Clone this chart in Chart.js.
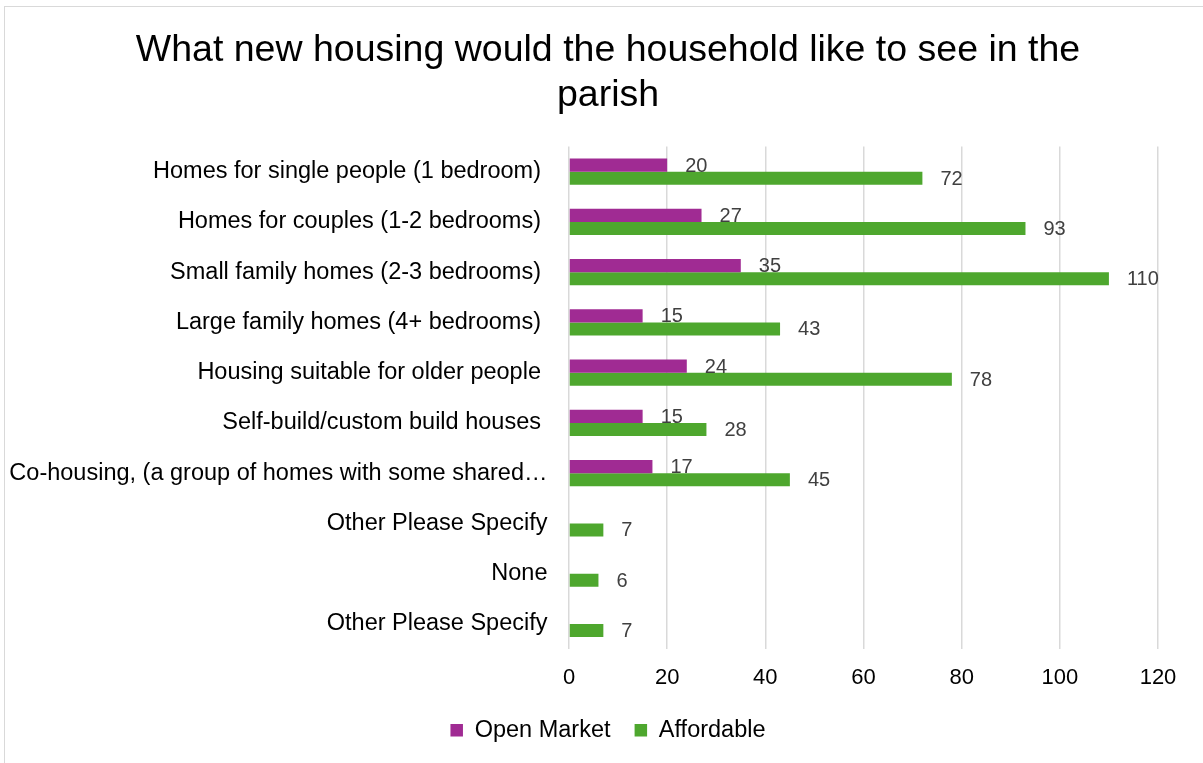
<!DOCTYPE html>
<html>
<head>
<meta charset="utf-8">
<title>New housing</title>
<script src="https://cdn.jsdelivr.net/npm/chart.js@4.4.1/dist/chart.umd.min.js"></script>
<style>
  html, body { margin: 0; padding: 0; background: #fff; overflow: hidden; }
  #wrap { position: relative; width: 1203px; height: 763px; }
  #frame {
    position: absolute; left: 4px; top: 6px; width: 1300px; height: 900px;
    border: 1px solid #d9d9d9; box-sizing: border-box; pointer-events: none;
  }
  canvas { position: absolute; left: 0; top: 0; }
</style>
</head>
<body>
<div id="wrap">
  <div id="frame"></div>
  <canvas id="housingChart" width="1203" height="763"></canvas>
</div>
<script>
const categories = [
  'Homes for single people (1 bedroom) ',
  'Homes for couples (1-2 bedrooms) ',
  'Small family homes (2-3 bedrooms) ',
  'Large family homes (4+ bedrooms) ',
  'Housing suitable for older people ',
  'Self-build/custom build houses ',
  'Co-housing, (a group of homes with some shared\u2026',
  'Other Please Specify',
  'None',
  'Other Please Specify'
];
const openMarket = [20, 27, 35, 15, 24, 15, 17, null, null, null];
const affordable = [72, 93, 110, 43, 78, 28, 45, 7, 6, 7];
const xTicks = [0, 20, 40, 60, 80, 100, 120];

const FONT = '"Liberation Sans", Arial, sans-serif';
const PLOT_LEFT = 569;
const PLOT_RIGHT = 1158;

// value labels just past the end of each bar
const barLabels = {
  id: 'barLabels',
  afterDatasetsDraw(chart) {
    const ctx = chart.ctx;
    ctx.save();
    ctx.font = '20px ' + FONT;
    ctx.fillStyle = '#404040';
    ctx.textAlign = 'left';
    ctx.textBaseline = 'middle';
    chart.data.datasets.forEach((ds, i) => {
      const meta = chart.getDatasetMeta(i);
      meta.data.forEach((bar, j) => {
        const v = ds.data[j];
        if (v === null || v === undefined) return;
        ctx.fillText(String(v), bar.x + 18, bar.y + 1);
      });
    });
    ctx.restore();
  }
};

new Chart(document.getElementById('housingChart'), {
  type: 'bar',
  data: {
    labels: categories,
    datasets: [
      {
        // trailing spaces widen the gap before the next legend item
        label: 'Open Market  ',
        data: openMarket,
        backgroundColor: '#A02B93',
        barPercentage: 1.0,
        categoryPercentage: 0.52
      },
      {
        label: 'Affordable',
        data: affordable,
        backgroundColor: '#4EA72E',
        barPercentage: 1.0,
        categoryPercentage: 0.52
      }
    ]
  },
  options: {
    indexAxis: 'y',
    responsive: false,
    animation: false,
    // negative right padding shifts the centred title and legend a little to the right
    layout: { padding: { left: 0, right: -13, top: 0, bottom: 11 } },
    scales: {
      x: {
        min: 0,
        max: 120,
        afterBuildTicks: (scale) => { scale.ticks = xTicks.map(v => ({ value: v })); },
        grid: { color: '#d9d9d9', lineWidth: 1.5, drawTicks: false },
        border: { display: false },
        ticks: { color: '#000', font: { family: FONT, size: 22 }, padding: 16 },
        afterFit: (scale) => { scale.paddingRight = 1203 - PLOT_RIGHT; }
      },
      y: {
        grid: { display: false, drawTicks: false },
        border: { display: false },
        ticks: { color: '#000', font: { family: FONT, size: 23.5 }, padding: 21.5, autoSkip: false },
        afterFit: (scale) => { scale.width = PLOT_LEFT; }
      }
    },
    plugins: {
      title: {
        display: true,
        text: ['What new housing would the household like to see in the', 'parish'],
        color: '#000',
        font: { family: FONT, size: 37.5, weight: 'normal', lineHeight: 1.2 },
        padding: { top: 28, bottom: 28.5 }
      },
      legend: {
        position: 'bottom',
        labels: {
          color: '#000',
          font: { family: FONT, size: 23.5 },
          boxWidth: 12.5,
          boxHeight: 12.5,
          padding: 11
        }
      },
      tooltip: { enabled: false }
    }
  },
  plugins: [barLabels]
});
</script>
</body>
</html>
